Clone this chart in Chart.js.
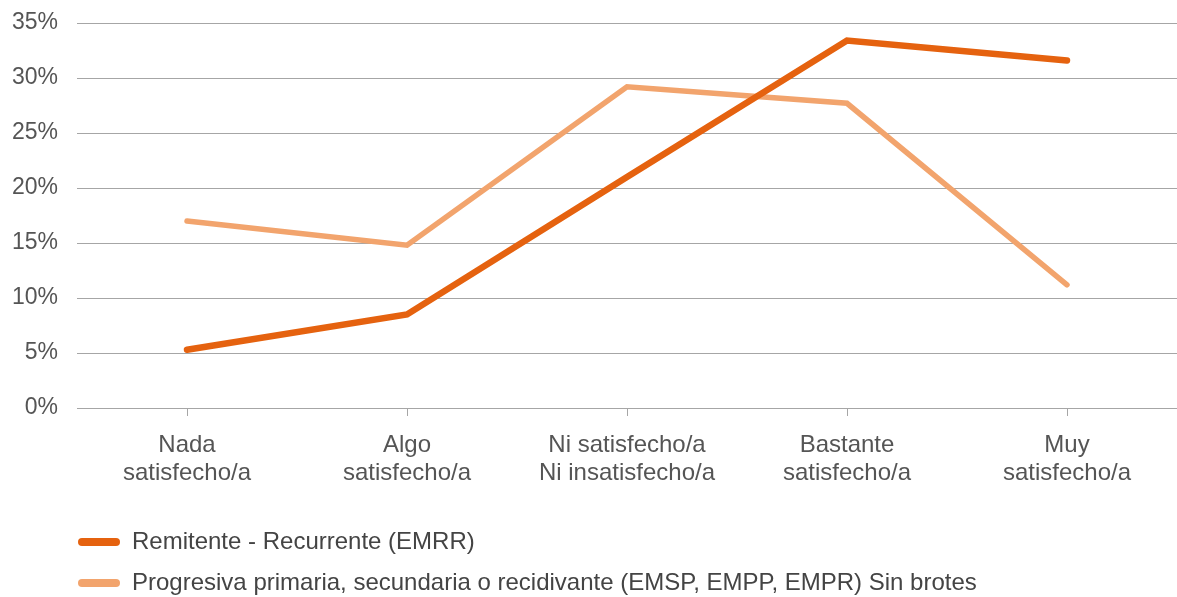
<!DOCTYPE html>
<html>
<head>
<meta charset="utf-8">
<script src="https://cdn.jsdelivr.net/npm/chart.js@4"></script>
<style>
  html, body { margin: 0; padding: 0; background: #fff; }
  #wrap { width: 1177px; height: 597px; }
</style>
</head>
<body>
<div id="wrap"><canvas id="myChart"></canvas></div>
<script>
var categorias = [
    ['Nada', 'satisfecho/a'],
    ['Algo', 'satisfecho/a'],
    ['Ni satisfecho/a', 'Ni insatisfecho/a'],
    ['Bastante', 'satisfecho/a'],
    ['Muy', 'satisfecho/a']
];
var emrr = [5.3, 8.5, 21.0, 33.4, 31.6];
var sinBrotes = [17.0, 14.8, 29.2, 27.7, 11.2];
var nombres = [
    'Remitente - Recurrente (EMRR)',
    'Progresiva primaria, secundaria o recidivante (EMSP, EMPP, EMPR) Sin brotes'
];

var ctx = document.getElementById('myChart');
var gris = '#a6a6a6';
var texto = '#555555';
var familia = '"Liberation Sans", Arial, sans-serif';

// coloca la leyenda debajo del eje x, alineada con el area del grafico
var moverLeyenda = {
    id: 'moverLeyenda',
    afterLayout: function (chart) {
        var lg = chart.legend;
        if (!lg) return;
        lg.left = 61;
        lg.top = chart.chartArea.bottom + 105;
        lg.bottom = chart.height;
        lg.height = lg.bottom - lg.top;
    }
};

var myChart = new Chart(ctx, {
    type: 'line',
    data: {
        labels: categorias,
        datasets: [{
            label: nombres[0],
            data: emrr,
            borderColor: '#e5620f',
            backgroundColor: '#e5620f',
            borderWidth: 6.5,
            borderCapStyle: 'round',
            pointRadius: 0,
            tension: 0
        }, {
            label: nombres[1],
            data: sinBrotes,
            borderColor: '#f2a46d',
            backgroundColor: '#f2a46d',
            borderWidth: 5.5,
            borderCapStyle: 'round',
            pointRadius: 0,
            tension: 0
        }]
    },
    options: {
        responsive: true,
        maintainAspectRatio: false,
        animation: false,
        layout: { padding: { top: 23, left: 0, right: 0, bottom: 0 } },
        scales: {
            x: {
                offset: true,
                afterFit: function (scale) { scale.height = 97; },
                grid: {
                    offset: false,
                    drawOnChartArea: false,
                    drawTicks: true,
                    tickLength: 8,
                    color: gris
                },
                border: { display: true, color: gris },
                ticks: {
                    font: { family: familia, size: 24, lineHeight: 1.1667 },
                    color: texto,
                    padding: 15,
                    maxRotation: 0
                }
            },
            y: {
                min: 0,
                max: 35,
                afterFit: function (scale) {
                    scale.width = 77;
                    scale.paddingTop = 0;
                    scale.paddingBottom = 0;
                },
                grid: { color: gris, drawTicks: false },
                border: { display: false },
                ticks: {
                    stepSize: 5,
                    font: { family: familia, size: 23 },
                    color: texto,
                    padding: 19,
                    callback: function (v) { return v + '%'; }
                }
            }
        },
        plugins: {
            tooltip: { enabled: false },
            legend: {
                position: 'bottom',
                align: 'start',
                labels: {
                    font: { family: familia, size: 24 },
                    color: '#444444',
                    boxWidth: 42,
                    boxHeight: 8,
                    padding: 17,
                    useBorderRadius: true,
                    borderRadius: 4,
                    generateLabels: function (chart) {
                        return chart.data.datasets.map(function (ds, i) {
                            return {
                                text: ds.label,
                                fillStyle: ds.borderColor,
                                strokeStyle: ds.borderColor,
                                lineWidth: 0,
                                borderRadius: 4,
                                fontColor: '#444444',
                                hidden: false,
                                datasetIndex: i
                            };
                        });
                    }
                }
            }
        }
    },
    plugins: [moverLeyenda]
});
</script>
</body>
</html>
